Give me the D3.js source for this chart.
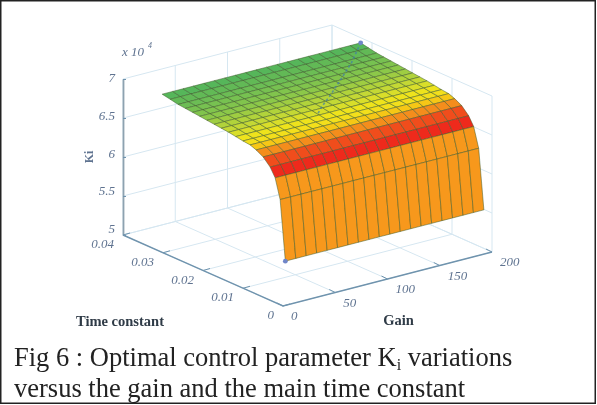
<!DOCTYPE html>
<html><head><meta charset="utf-8">
<script src="https://cdn.jsdelivr.net/npm/d3@7"></script>
<style>html,body{margin:0;padding:0;background:#fff}svg{display:block}</style>
</head><body><div id="chart"></div>
<script>
// ---- data ----
const gainValues = [3,13,23,33,43,53,63,73,83,93,103,113,123,133,143,153,163,173,183,193];
const timeConstants = [.0002,.0015,.00275,.004,.00575,.0075,.009,.0108,.0126,.0144,.0162,.018,.0198,.0216,.0234,.0252,.027,.029,.031];
const kiProfile = [5.56,6.32,6.57,6.68,6.77,6.82,6.85,6.86,6.875,6.89,6.90,6.91,6.92,6.93,6.94,6.95,6.96,6.98,7.0];
const valueTicks = [5,5.5,6,6.5,7];
const gainTicks = [0,50,100,150,200];
const tcTicks = [0,.01,.02,.03,.04];
const optGain = [193,165,140,115,95,83];
const optTc = [.031,.026,.022,.018,.015,.013];
const optKi = [7.0,6.955,6.93,6.91,6.895,6.88];
const captionLines = ["Fig 6 : Optimal control parameter K","versus the gain and the main time constant"];

const W=597,H=405;
const svg=d3.select("#chart").append("svg").attr("width",W).attr("height",H);
const defs=svg.append("defs");
defs.append("filter").attr("id","soft").attr("x","-5%").attr("y","-5%").attr("width","110%").attr("height","110%")
  .append("feGaussianBlur").attr("stdDeviation",0.75);
defs.append("filter").attr("id","softer").attr("x","-5%").attr("y","-5%").attr("width","110%").attr("height","110%")
  .append("feGaussianBlur").attr("stdDeviation",0.3);

// oblique axes of the 3-D box, one scale per screen component
const gainX=d3.scaleLinear().domain([0,200]).range([0,209]);
const gainY=d3.scaleLinear().domain([0,200]).range([0,-54]);
const tcX=d3.scaleLinear().domain([0,.04]).range([283,123]);
const tcY=d3.scaleLinear().domain([0,.04]).range([71,0]);
const vY=d3.scaleLinear().domain([5,7]).range([235,79]);
const P=(g,t,v)=>[tcX(t)+gainX(g), vY(v)+tcY(t)+gainY(g)];
const line=d3.line();

const chart=svg.append("g").attr("filter","url(#soft)");
const gridC="#d6e7f1";
const grid=chart.append("g").attr("fill","none").attr("stroke",gridC).attr("stroke-width",1);
const seg=(a,b)=>grid.append("path").attr("d",line([a,b]));
gainTicks.forEach(g=>{ seg(P(g,0,5),P(g,.04,5)); seg(P(g,.04,5),P(g,.04,7)); });
tcTicks.forEach(t=>{ seg(P(0,t,5),P(200,t,5)); seg(P(200,t,5),P(200,t,7)); });
valueTicks.forEach(v=>{ seg(P(0,.04,v),P(200,.04,v)); seg(P(200,.04,v),P(200,0,v)); });

// surface, painted back to front
const colorScale=d3.scaleLinear()
  .domain([0,1,1.6,2.4,3.4,4.4,5.4,7,9,12,17.5])
  .range(["#f7981a","#f7981a","#ee2b1c","#ee2b1c","#f1641e","#f6a81a","#f6dc18","#eee31e","#c4d834","#8cc84a","#52b45c"]);
const surf=chart.append("g").attr("stroke","#3d5a2a").attr("stroke-width",.7).attr("stroke-opacity",.7).attr("stroke-linejoin","round");
for(let r=timeConstants.length-2;r>=0;r--){
  for(let c=0;c<gainValues.length-1;c++){
    surf.append("path")
      .attr("d",line([P(gainValues[c],timeConstants[r],kiProfile[r]),P(gainValues[c+1],timeConstants[r],kiProfile[r]),
        P(gainValues[c+1],timeConstants[r+1],kiProfile[r+1]),P(gainValues[c],timeConstants[r+1],kiProfile[r+1])])+"Z")
      .attr("fill",colorScale(r));
  }
}
// optimum trace
const opt=optGain.map((g,i)=>P(g,optTc[i],optKi[i]));
chart.append("path").attr("d",line(opt)).attr("fill","none").attr("stroke","#3f7fa8").attr("stroke-width",1.6)
  .attr("stroke-dasharray","2.5 2.5").attr("stroke-opacity",.7);
chart.append("circle").attr("cx",opt[0][0]).attr("cy",opt[0][1]).attr("r",2.4).attr("fill","#6f86c8");
const low=P(gainValues[0],timeConstants[0],kiProfile[0]);
chart.append("circle").attr("cx",low[0]).attr("cy",low[1]).attr("r",2.4).attr("fill","#6f86c8");

// axes
const axisC="#6f93ad", labelC="#5f7390", tickFont="italic 13px 'Liberation Serif',serif";
const zAxis=chart.append("g").attr("transform",`translate(${tcX(.04)},0)`)
  .call(d3.axisLeft(vY).tickValues(valueTicks).tickSize(-3).tickSizeOuter(0).tickPadding(8).tickFormat(d=>d3.format("~g")(d)));
zAxis.select(".domain").attr("stroke","#8ea2b0").attr("stroke-width",1.8);
zAxis.selectAll("line").attr("stroke",axisC);
zAxis.selectAll("text").attr("fill",labelC).style("font",tickFont).attr("dy",".2em").attr("y",d=>(d-7)*2.5);
chart.append("path").attr("d",line([P(0,.04,5),P(0,0,5),P(200,0,5)])).attr("fill","none").attr("stroke",axisC).attr("stroke-width",1.4);
tcTicks.forEach(t=>{
  const p=P(0,t,5);
  chart.append("path").attr("d",line([p,[p[0]+7,p[1]-2]])).attr("stroke",axisC).attr("fill","none");
  chart.append("text").attr("x",p[0]-9).attr("y",p[1]+13).attr("text-anchor","end").attr("fill",labelC).style("font",tickFont).text(d3.format("~g")(t));
});
gainTicks.forEach(g=>{
  const p=P(g,0,5);
  chart.append("path").attr("d",line([p,[p[0]-6,p[1]-3]])).attr("stroke",axisC).attr("fill","none");
  chart.append("text").attr("x",p[0]+8).attr("y",p[1]+14).attr("fill",labelC).style("font",tickFont).text(g);
});
chart.append("text").attr("x",122).attr("y",56).attr("fill",labelC).style("font",tickFont).text("x 10");
chart.append("text").attr("x",148).attr("y",48).attr("fill",labelC).style("font","italic 8px 'Liberation Serif',serif").text("4");
chart.append("text").attr("transform","translate(93,157) rotate(-90)").attr("text-anchor","middle").attr("fill",labelC)
  .style("font","bold 12px 'Liberation Serif',serif").text("Ki");
const bold="bold 14.5px 'Liberation Serif',serif";
chart.append("text").attr("x",120).attr("y",326).attr("text-anchor","middle").attr("fill","#2f3a46").style("font",bold).text("Time constant");
chart.append("text").attr("x",398.5).attr("y",325).attr("text-anchor","middle").attr("fill","#2f3a46").style("font",bold).text("Gain");

// caption
const cap=svg.append("g").attr("filter","url(#softer)").attr("fill","#222").style("font","26.5px 'Liberation Serif',serif");
const l1=cap.append("text").attr("x",14).attr("y",366).text(captionLines[0]);
l1.append("tspan").attr("dy",4).style("font-size","16px").text("i");
l1.append("tspan").attr("dy",-4).text(" variations");
cap.append("text").attr("x",14).attr("y",397).text(captionLines[1]);

// frame
svg.append("rect").attr("x",.75).attr("y",.75).attr("width",594.5).attr("height",402.5).attr("fill","none").attr("stroke","#222").attr("stroke-width",1.5);
</script></body></html>
